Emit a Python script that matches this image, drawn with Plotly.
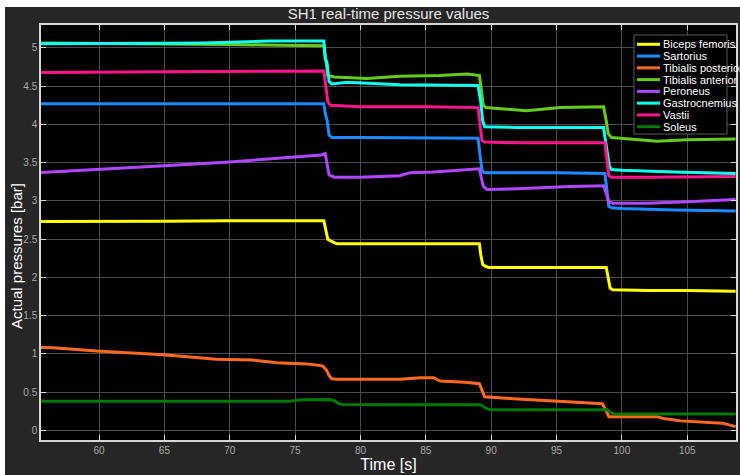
import plotly.graph_objects as go

# ---- series data: time [s] and pressure [bar] per muscle ----
names = ["Biceps femoris", "Sartorius", "Tibialis posterior", "Tibialis anterior",
         "Peroneus", "Gastrocnemius", "Vastii", "Soleus"]
colors = ["#ffff00", "#1a8cff", "#ff6a1f", "#66cc1a",
          "#b046ff", "#12fff0", "#ff148c", "#007a00"]

t_biceps = [55.5, 60, 65, 70, 75, 77.2, 77.35, 77.5, 77.8, 78.2, 80, 85, 89.1, 89.2, 89.35,
            89.5, 89.8, 92, 95, 98.8, 98.95, 99.1, 99.3, 102, 105, 108.7]
p_biceps = [2.73, 2.73, 2.735, 2.74, 2.74, 2.74, 2.62, 2.50, 2.47, 2.44, 2.44, 2.44, 2.44, 2.30, 2.17,
            2.15, 2.13, 2.13, 2.13, 2.13, 2.0, 1.86, 1.84, 1.83, 1.83, 1.82]

t_sartorius = [55.5, 65, 77.2, 77.3, 77.45, 77.6, 77.8, 80, 85, 89.0, 89.15, 89.3, 89.45, 92, 95,
               98.7, 98.85, 99.0, 99.2, 100, 104, 108.7]
p_sartorius = [4.27, 4.27, 4.27, 4.15, 4.05, 3.86, 3.83, 3.83, 3.82, 3.82, 3.60, 3.40, 3.37, 3.37, 3.37,
               3.36, 3.10, 2.93, 2.91, 2.90, 2.88, 2.87]

t_tib_post = [55.5, 56.5, 59.8, 64.9, 69, 71.8, 73.6, 75.9, 77.1, 77.4, 77.6, 77.8, 78.2, 80, 83,
              84.6, 85.6, 86.1, 88, 89.1, 89.3, 89.5, 91.7, 95, 98.5, 98.8, 99.0, 102.7, 103.2,
              104.5, 107.7, 108.7]
p_tib_post = [1.085, 1.08, 1.04, 0.99, 0.93, 0.92, 0.885, 0.87, 0.845, 0.79, 0.72, 0.675, 0.67, 0.67, 0.67,
              0.69, 0.69, 0.645, 0.63, 0.61, 0.52, 0.44, 0.415, 0.38, 0.35, 0.26, 0.18, 0.18, 0.155,
              0.125, 0.095, 0.05]

t_tib_ant = [55.5, 60, 65, 70, 74, 77.2, 77.35, 77.5, 78, 80.5, 83, 86, 88.2, 89.1, 89.25, 89.4, 89.6,
             92.7, 95.3, 98.6, 98.8, 98.95, 99.2, 100.5, 102.7, 105, 108.7]
p_tib_ant = [5.065, 5.06, 5.055, 5.045, 5.035, 5.03, 4.85, 4.64, 4.62, 4.60, 4.63, 4.64, 4.66, 4.64, 4.45,
             4.25, 4.22, 4.18, 4.22, 4.23, 4.05, 3.88, 3.83, 3.81, 3.78, 3.80, 3.81]

t_peroneus = [55.5, 60, 65, 70, 74, 77.0, 77.3, 77.45, 77.6, 78, 80, 83, 83.8, 85.6, 88.6, 89.1,
              89.25, 89.4, 89.7, 92, 96, 98.6, 98.8, 99.0, 99.3, 102, 105, 108.7]
p_peroneus = [3.37, 3.41, 3.46, 3.51, 3.56, 3.60, 3.62, 3.45, 3.34, 3.31, 3.31, 3.33, 3.37, 3.38, 3.41, 3.42,
              3.30, 3.19, 3.15, 3.16, 3.19, 3.20, 3.10, 2.99, 2.97, 2.97, 2.99, 3.02]

t_gastro = [55.5, 60, 65, 68, 70, 71.5, 73, 77.2, 77.3, 77.45, 77.6, 77.8, 79, 83, 89.0, 89.2, 89.35,
            89.5, 92, 96, 98.6, 98.75, 98.9, 99.05, 99.2, 100, 104, 108.7]
p_gastro = [5.055, 5.055, 5.06, 5.065, 5.072, 5.082, 5.09, 5.09, 4.86, 4.80, 4.56, 4.53, 4.55, 4.52, 4.51,
            4.30, 4.05, 3.97, 3.96, 3.96, 3.96, 3.78, 3.62, 3.45, 3.41, 3.40, 3.38, 3.36]

t_vastii = [55.5, 65, 77.2, 77.35, 77.5, 77.7, 78.5, 80, 85, 89.0, 89.15, 89.3, 89.5, 92, 96,
            98.7, 98.85, 99.0, 99.2, 102, 108.7]
p_vastii = [4.68, 4.69, 4.70, 4.50, 4.30, 4.25, 4.24, 4.23, 4.23, 4.22, 4.00, 3.79, 3.77, 3.76, 3.76,
            3.76, 3.55, 3.33, 3.31, 3.31, 3.32]

t_soleus = [55.5, 65, 74.5, 75.5, 77.7, 78.0, 78.3, 78.6, 82, 89.2, 89.5, 89.9, 92, 96, 98.9,
            99.1, 99.4, 103, 108.7]
p_soleus = [0.38, 0.38, 0.38, 0.40, 0.405, 0.39, 0.355, 0.34, 0.34, 0.335, 0.30, 0.27, 0.27, 0.275, 0.27,
            0.24, 0.215, 0.215, 0.215]

times = [t_biceps, t_sartorius, t_tib_post, t_tib_ant, t_peroneus, t_gastro, t_vastii, t_soleus]
pressures = [p_biceps, p_sartorius, p_tib_post, p_tib_ant, p_peroneus, p_gastro, p_vastii, p_soleus]

x_ticks = [60, 65, 70, 75, 80, 85, 90, 95, 100, 105]
y_ticks = [0, 0.5, 1, 1.5, 2, 2.5, 3, 3.5, 4, 4.5, 5]

# ---- figure geometry (pixels) ----
W, H = 740, 475
ML, MR, MT, MB = 41, 4, 25, 35
PW, PH = W - ML - MR, H - MT - MB


def px_x(px):
    return (px - ML) / PW


def px_y(py):
    return (H - MB - py) / PH


fig = go.Figure()
for name, color, t, p in zip(names, colors, times, pressures):
    fig.add_trace(go.Scatter(x=t, y=p, mode="lines", name=name,
                             line=dict(color=color, width=3), showlegend=False))

frame = "#d6d6d6"
axis_common = dict(showgrid=True, gridcolor="#4c4c4c", gridwidth=1, zeroline=False,
                   showline=True, linecolor=frame, linewidth=1.5, mirror="ticks",
                   ticks="inside", ticklen=5, tickcolor=frame, tickwidth=1,
                   tickfont=dict(family="Liberation Sans, Arial", size=10, color="#a8a8a8"))

fig.update_layout(
    width=W, height=H,
    margin=dict(l=ML, r=MR, t=MT, b=MB, autoexpand=False),
    paper_bgcolor="#262626", plot_bgcolor="black",
    title=dict(text="SH1 real-time pressure values", x=388.5 / W,
               xanchor="center", y=1 - 14 / H, yanchor="middle",
               font=dict(family="Liberation Sans Narrow, Liberation Sans, Arial", size=15, color="#e6e6e6")),
    xaxis=dict(range=[55.56, 108.73], tickvals=x_ticks, automargin=False,
               title=dict(text="Time [s]", standoff=4,
                          font=dict(family="Liberation Sans Narrow, Liberation Sans, Arial", size=16, color="white")),
               **axis_common),
    yaxis=dict(range=[-0.125, 5.3], tickvals=y_ticks, automargin=False, **axis_common),
    showlegend=False,
)

# y-axis label, placed along the left margin
fig.add_annotation(text="Actual pressures [bar]", xref="paper", yref="paper",
                   x=px_x(16), y=px_y(256), xanchor="center", yanchor="middle",
                   textangle=-90, showarrow=False,
                   font=dict(family="Liberation Sans, Arial", size=15, color="white"))

# white strips along the top and left edges of the page
fig.add_shape(type="rect", xref="paper", yref="paper", layer="above", line_width=0,
              fillcolor="white", x0=px_x(0), x1=px_x(W), y0=px_y(7), y1=px_y(0))
fig.add_shape(type="rect", xref="paper", yref="paper", layer="above", line_width=0,
              fillcolor="white", x0=px_x(0), x1=px_x(5), y0=px_y(H), y1=px_y(0))

# legend box in the upper right corner
LX0, LX1, LY0, LY1 = 634, 727, 35, 134
fig.add_shape(type="rect", xref="paper", yref="paper", layer="above",
              line=dict(color="#5a5a5a", width=1), fillcolor="black",
              x0=px_x(LX0), x1=px_x(LX1), y0=px_y(LY1), y1=px_y(LY0))
row0, row_step = 44.3, 11.77
for i, (name, color) in enumerate(zip(names, colors)):
    ry = row0 + i * row_step
    fig.add_shape(type="line", xref="paper", yref="paper", layer="above",
                  line=dict(color=color, width=3),
                  x0=px_x(637), x1=px_x(660), y0=px_y(ry), y1=px_y(ry))
    fig.add_annotation(text=name, xref="paper", yref="paper", x=px_x(660.5), y=px_y(ry),
                       xanchor="left", yanchor="middle", showarrow=False,
                       font=dict(family="Liberation Sans, Arial", size=11, color="white"))

fig.write_html("out.html")
